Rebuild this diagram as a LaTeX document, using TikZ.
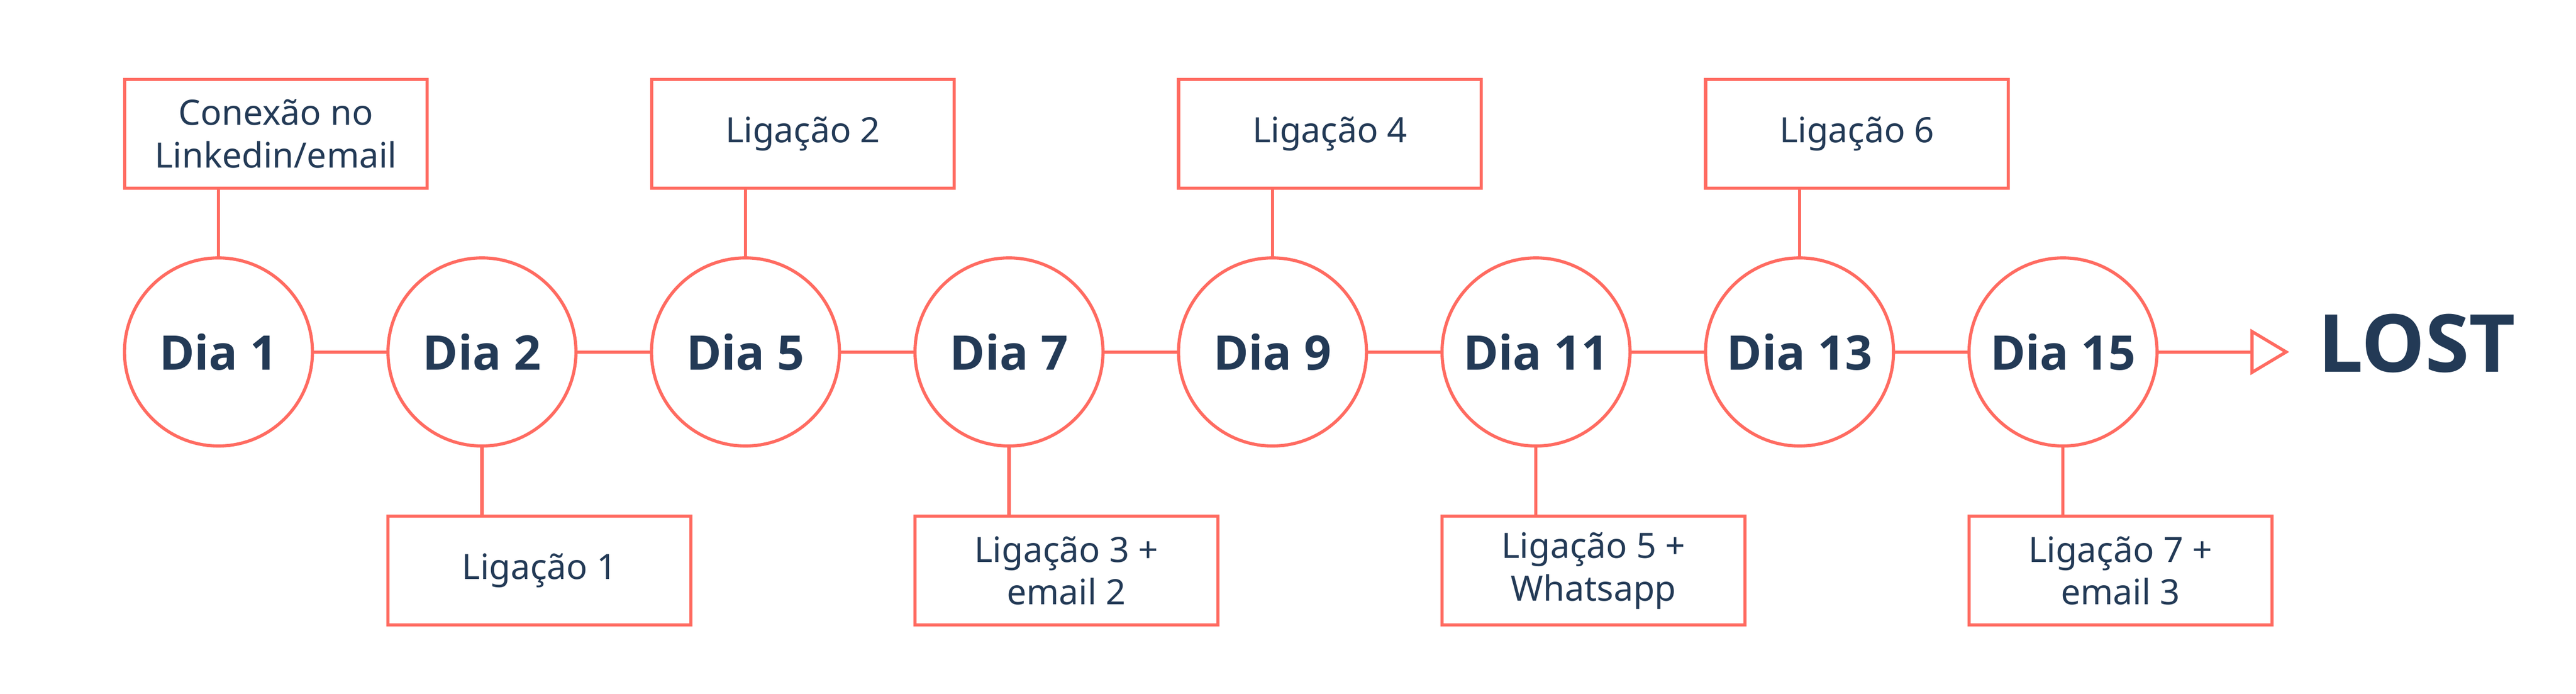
\documentclass[tikz,border=0pt]{standalone}
\usepackage{fontspec}
\setmainfont{Noto Sans}
\newfontfamily\negrito{Open Sans}
\usetikzlibrary{arrows.meta,positioning,calc}
\definecolor{coral}{RGB}{255,107,97}
\definecolor{navy}{RGB}{35,58,86}

\begin{document}
\begin{tikzpicture}[x=1mm,y=1mm,
    line width=0.65mm,
    dia/.style={circle, draw=coral, minimum size=38.8mm, inner sep=0pt, outer sep=0pt,
        text=navy, font=\negrito\bfseries\fontsize{28}{34}\selectfont},
    tarefa/.style={rectangle, draw=coral, minimum width=62.5mm, minimum height=22.45mm,
        inner sep=0pt, outer sep=0pt, align=center, text=navy,
        font=\fontsize{20.5}{25}\selectfont},
    elo/.style={draw=coral}]
\useasboundingbox (0,0) rectangle (531.8,-143.1);

\foreach \d [count=\i] in {1,2,5,7,9,11,13,15}
    \node (d\i) [dia] at ({45.1+(\i-1)*54.4},-72.6) {Dia \d};

\foreach \i [evaluate=\i as \j using {int(\i+1)}] in {1,...,7}
    \draw [elo] (d\i.east)--(d\j.west);

% tarefas acima da linha
\foreach \i/\txt in {1/{Conexão no\\Linkedin/email}, 3/{Ligação 2}, 5/{Ligação 4}, 7/{Ligação 6}}{
    \node (t\i) [tarefa, anchor=south west] at ($(d\i.west)+(0,33.75)$) {\txt};
    \draw [elo] (t\i.south -| d\i) -- (d\i.north);
}

% tarefas abaixo da linha
\foreach \i/\txt in {2/{Ligação 1}, 4/{Ligação 3 +\\email 2}, 6/{Ligação 5 +\\Whatsapp}, 8/{Ligação 7 +\\email 3}}{
    \node (t\i) [tarefa, anchor=north west] at ($(d\i.west)+(0,-33.9)$) {\txt};
    \draw [elo] (d\i.south) -- (t\i.north -| d\i);
}

\coordinate (fim) at (472.6,-72.6);
\draw [elo, -{Triangle[open, length=8mm, width=9.4mm]}] (d8.east) -- (fim);
\node (lost) [anchor=base west, inner sep=0pt, text=navy,
    font=\negrito\bfseries\fontsize{47}{56}\selectfont] at (478.2,-76.7) {LOST};

\end{tikzpicture}
\end{document}
